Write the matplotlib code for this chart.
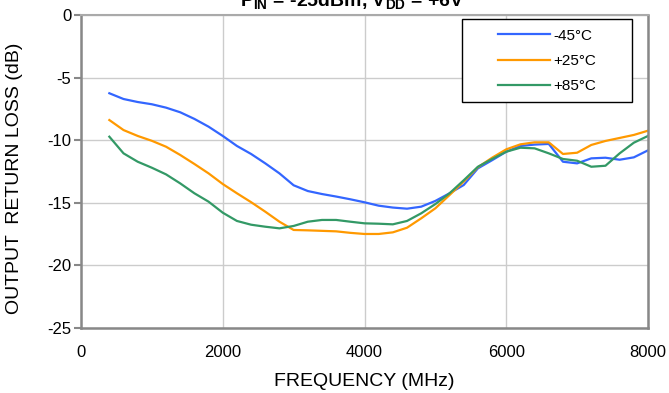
import matplotlib
matplotlib.use('Agg')
import matplotlib.pyplot as plt
from matplotlib.patches import Rectangle

# ------------------------------------------------------------
# Data (frequency in MHz, dB)
# ------------------------------------------------------------
freq = [400, 600, 800, 1000, 1200, 1400, 1600, 1800, 2000, 2200,
        2400, 2600, 2800, 3000, 3200, 3400, 3600, 3800, 4000, 4200,
        4400, 4600, 4800, 5000, 5200, 5400, 5600, 5800, 6000, 6200,
        6400, 6600, 6800, 7000, 7200, 7400, 7600, 7800, 8000]

rl_m45 = [-6.25, -6.71, -6.95, -7.13, -7.40, -7.77, -8.30, -8.92, -9.66, -10.46,
          -11.10, -11.85, -12.65, -13.60, -14.06, -14.30, -14.50, -14.72, -14.96, -15.23,
          -15.38, -15.47, -15.31, -14.85, -14.24, -13.58, -12.25, -11.60, -10.92, -10.46,
          -10.35, -10.30, -11.72, -11.85, -11.45, -11.40, -11.56, -11.37, -10.81]

rl_p25 = [-8.39, -9.19, -9.66, -10.05, -10.52, -11.18, -11.90, -12.65, -13.50, -14.24,
          -14.95, -15.71, -16.51, -17.17, -17.20, -17.24, -17.28, -17.40, -17.49, -17.49,
          -17.36, -16.99, -16.24, -15.44, -14.38, -13.30, -12.16, -11.40, -10.73, -10.33,
          -10.17, -10.17, -11.10, -11.00, -10.38, -10.06, -9.82, -9.58, -9.24]

rl_p85 = [-9.72, -11.05, -11.72, -12.20, -12.73, -13.45, -14.24, -14.91, -15.79, -16.45,
          -16.75, -16.91, -17.04, -16.85, -16.51, -16.37, -16.37, -16.51, -16.64, -16.67,
          -16.72, -16.45, -15.84, -15.10, -14.24, -13.20, -12.12, -11.50, -10.92, -10.60,
          -10.65, -11.05, -11.50, -11.64, -12.12, -12.04, -11.05, -10.20, -9.66]

labels = ['-45°C', '+25°C', '+85°C']
x_ticks = [0, 2000, 4000, 6000, 8000]
y_ticks = [0, -5, -10, -15, -20, -25]

# ------------------------------------------------------------
# Style
# ------------------------------------------------------------
plt.rcParams['font.family'] = ['Liberation Sans', 'DejaVu Sans']
plt.rcParams['axes.unicode_minus'] = False
plt.rcParams['mathtext.fontset'] = 'custom'
plt.rcParams['mathtext.rm'] = 'Liberation Sans'
plt.rcParams['mathtext.bf'] = 'Liberation Sans:bold'

W, H = 669, 393
fig = plt.figure(figsize=(W / 100, H / 100), dpi=100)
ax = fig.add_axes([81 / W, 1 - 328 / H, 567 / W, 313 / H])

ax.plot(freq, rl_m45, color='#3366FF', lw=1.6, label=labels[0])
ax.plot(freq, rl_p25, color='#FF9900', lw=1.6, label=labels[1])
ax.plot(freq, rl_p85, color='#339966', lw=1.6, label=labels[2])

ax.set_xlim(0, 8000)
ax.set_ylim(-25, 0)
ax.set_xticks(x_ticks)
ax.set_yticks(y_ticks)
ax.tick_params(axis='x', length=0, pad=12, labelsize=12)
ax.tick_params(axis='y', length=5, width=1.5, color='#888888', pad=2, labelsize=12)
ax.grid(True, color='#cccccc', lw=1)
ax.set_axisbelow(True)
for s in ax.spines.values():
    s.set_color('#888888')
    s.set_linewidth(1.8)
ax.spines['top'].set_color('#aaaaaa')
ax.spines['top'].set_linewidth(1.5)

ax.set_xlabel('FREQUENCY (MHz)', fontsize=14, va='center')
ax.xaxis.set_label_coords(0.5, -54 / 313)
ax.set_ylabel('OUTPUT  RETURN LOSS (dB)', fontsize=14, va='center')
ax.yaxis.set_label_coords(-66 / 567, 150 / 313)

# legend box drawn by hand (wide padding like the reference)
ax.add_patch(Rectangle((462 / W, 1 - 102 / H), 170 / W, 83 / H,
                       transform=fig.transFigure, facecolor='white',
                       edgecolor='black', lw=1.0, zorder=4, clip_on=False))
leg = ax.legend(loc='center left', bbox_to_anchor=(498 / W, 1 - 61 / H),
                bbox_transform=fig.transFigure, borderaxespad=0, borderpad=0,
                fontsize=11, handlelength=3.4, labelspacing=0.75,
                frameon=False, handletextpad=0.2)
leg.set_zorder(6)

fig.text(352 / W, 1 - 6 / H,
         r'$\mathbf{P_{IN}}$ = -25dBm, $\mathbf{V_{DD}}$ = +6V',
         ha='center', va='baseline', fontsize=14, fontweight='bold')

fig.savefig('out.png', dpi=100)
